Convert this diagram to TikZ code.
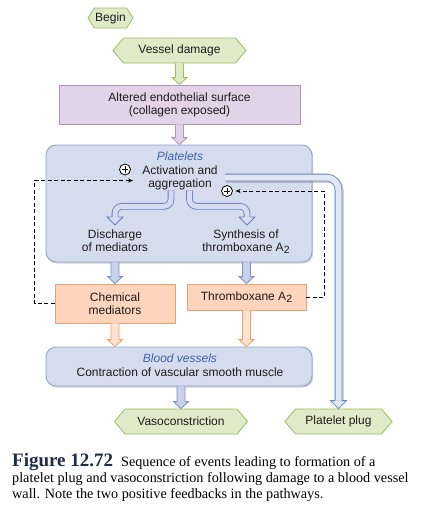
\documentclass[tikz,border=0pt]{standalone}
\usepackage{fontspec}
\setmainfont{Liberation Sans}
\newfontfamily\capfont{Liberation Serif}
\usetikzlibrary{shapes.symbols,shadows,arrows.meta,calc}

\definecolor{txt}{HTML}{1E1B1C}
\definecolor{gfill}{HTML}{E1EAC8}
\definecolor{gdraw}{HTML}{9DBD5E}
\definecolor{pfill}{HTML}{E2D4E8}
\definecolor{pdraw}{HTML}{B293C4}
\definecolor{bfill}{HTML}{D5DCEE}
\definecolor{bdraw}{HTML}{8B9FCC}
\definecolor{afill}{HTML}{C8D2EA}
\definecolor{adraw}{HTML}{7C92C6}
\definecolor{hdraw}{HTML}{6680BC}
\definecolor{ppfill}{HTML}{E2E7F4}
\definecolor{ofill}{HTML}{FCD5BC}
\definecolor{odraw}{HTML}{F0A070}
\definecolor{oafill}{HTML}{FDE2D0}
\definecolor{ital}{HTML}{3F62AC}
\definecolor{capcol}{HTML}{1E2B4A}

\newcommand\subtwo{\raisebox{-2.6pt}{\fontsize{10.5}{10.5}\selectfont 2}}

% straight block arrow: style, start point, tip point
\newcommand\barrow[3]{\filldraw[#1] let \p1=(#2), \p2=(#3) in
  (\x1-4pt,\y1) -- (\x1-4pt,\y2+7pt) -- (\x1-7.5pt,\y2+7pt) -- (\x1,\y2)
  -- (\x1+7.5pt,\y2+7pt) -- (\x1+4pt,\y2+7pt) -- (\x1+4pt,\y1);}
% hollow arrow head: fill colour, draw colour, tip point, half width
\newcommand\hhead[4]{%
  \fill[#1] let \p1=(#3) in (\x1-#4,\y1+8pt) -- (\x1,\y1) -- (\x1+#4,\y1+8pt) -- cycle;
  \draw[#2,line width=0.8pt,line join=miter] let \p1=(#3) in
   (\x1-3.3pt,\y1+8pt) -- (\x1-#4,\y1+8pt) -- (\x1,\y1) -- (\x1+#4,\y1+8pt) -- (\x1+3.3pt,\y1+8pt);}

\tikzset{
  every node/.style={text=txt, font=\fontsize{12}{13}\selectfont, inner sep=0pt, align=center},
  hexbox/.style={signal, signal to=west and east, signal pointer angle=100,
    draw=gdraw, fill=gfill, line width=0.8pt, minimum height=25pt},
  purplebox/.style={draw=pdraw, fill=pfill, line width=0.8pt},
  bluebox/.style={draw=bdraw, fill=bfill, line width=0.8pt, rounded corners=10pt,
    drop shadow={shadow xshift=1.2pt, shadow yshift=-1.5pt, opacity=0.35, fill=gray}},
  orangebox/.style={draw=odraw, fill=ofill, line width=0.8pt},
  italic/.style={text=ital, font=\fontsize{12}{13}\selectfont\itshape},
  garrow/.style={fill=gfill, draw=gdraw, line width=0.8pt},
  parrow/.style={fill=pfill, draw=pdraw, line width=0.8pt},
  barr/.style={fill=afill, draw=adraw, line width=0.8pt},
  oarrow/.style={fill=oafill, draw=odraw, line width=0.8pt},
  band/.style={hdraw, line width=0.8pt, double=bfill, double distance=5pt, rounded corners=7pt},
  fb/.style={draw=black, line width=0.75pt, dash pattern=on 4pt off 2.5pt, -{Stealth[length=5pt,width=4pt]}},
  plus/.style={circle, draw=black, fill=white, line width=0.8pt, minimum size=11pt,
    path picture={\draw[line width=0.9pt] ($(path picture bounding box.center)+(-3.2pt,0)$) -- +(6.4pt,0)
      ($(path picture bounding box.center)+(0,-3.2pt)$) -- +(0,6.4pt);}},
  capnode/.style={anchor=base west, text=black, font=\capfont\fontsize{14.2}{16}\selectfont, align=left}
}

\begin{document}
\begin{tikzpicture}[x=1pt,y=-1pt]
\useasboundingbox[fill=white] (0,0) rectangle (439,517);

% nodes
\node[hexbox, signal pointer angle=115, minimum width=45pt, minimum height=20pt] (begin) at (110.5,18) {Begin};
\node[hexbox, minimum width=133pt] (vd) at (179.5,50.5) {Vessel damage};
\node[purplebox, minimum width=241pt, minimum height=39pt] (alt) at (179.5,104.5)
  {Altered endothelial surface\\(collagen exposed)};
\node[bluebox, minimum width=266pt, minimum height=117pt] (plt) at (179,203.5) {};
\node[italic] (pltlbl) at (180,156.5) {Platelets};
\node (act) at (180,178) {Activation and\\aggregation};
\node (disc) at (115,241) {Discharge\\of mediators};
\node (synth) at (246,241.5) {Synthesis of\\thromboxane A\subtwo};
\node[orangebox, minimum width=120pt, minimum height=39pt] (chem) at (115,303.5) {Chemical\\mediators};
\node[orangebox, minimum width=119pt, minimum height=26pt] (thx) at (246.5,297) {};
\node (thxlbl) at (246.5,297) {Thromboxane A\subtwo};
\node[bluebox, minimum width=266pt, minimum height=39pt] (bv) at (179,366.5) {};
\node[italic] (bvlbl) at (180,358) {Blood vessels};
\node (contr) at (180,372) {Contraction of vascular smooth muscle};
\node[hexbox, minimum width=133pt] (vc) at (181,421.5) {Vasoconstriction};
\node[hexbox, minimum width=107pt] (pp) at (338.5,421.5) {Platelet plug};

% straight block arrows
\barrow{garrow}{vd.south}{vd.south |- alt.north}
\barrow{parrow}{alt.south}{alt.south |- plt.north}
\barrow{barr}{chem.north |- plt.south}{chem.north}
\barrow{barr}{thx.north |- plt.south}{thx.north}
\barrow{oarrow}{chem.south}{chem.south |- bv.north}
\barrow{oarrow}{thx.south}{thx.south |- bv.north}
\barrow{barr}{vc.north |- bv.south}{vc.north}

% curved hollow arrows
\coordinate (t1) at (115,225);
\coordinate (t2) at (247,225);
\draw[band] ([xshift=-9pt]act.south) -- ++(0,16) -| ($(t1)+(0,-8)$);
\hhead{bfill}{hdraw}{t1}{8pt}
\draw[band] ([xshift=9.5pt]act.south) -- ++(0,16) -| ($(t2)+(0,-8)$);
\hhead{bfill}{hdraw}{t2}{8pt}

% platelet plug band
\coordinate (pp0) at (225,177.5);
\draw[gray, opacity=0.35, line width=8pt, rounded corners=12pt, transform canvas={shift={(1.3pt,-1.3pt)}}]
  (pp0) -| ($(pp.north)+(0,-8)$);
\draw[hdraw, line width=0.8pt, double=ppfill, double distance=6pt, rounded corners=12pt]
  (pp0) -| ($(pp.north)+(0,-8)$);
\hhead{ppfill}{hdraw}{pp.north}{8pt}

% positive feedback loops
\node[plus] (p1) at (125,169.5) {};
\node[plus] (p2) at (227,191) {};
\coordinate (fb1) at (133,180.5);
\coordinate (fb2) at (235.5,191);
\draw[fb] (chem.west) -- ++(-20,0) |- (fb1);
\draw[fb] (thx.east) -- ++(18,0) |- (fb2);

% caption
\node[capnode] (cap1) at (12,466.5) {{\fontsize{19}{19}\selectfont\bfseries\color{capcol}Figure 12.72}\hspace{8pt}Sequence of events leading to formation of a};
\node[capnode] (cap2) at (12,482.5) {platelet plug and vasoconstriction following damage to a blood vessel};
\node[capnode] (cap3) at (12,498.5) {wall. Note the two positive feedbacks in the pathways.};
\end{tikzpicture}
\end{document}
